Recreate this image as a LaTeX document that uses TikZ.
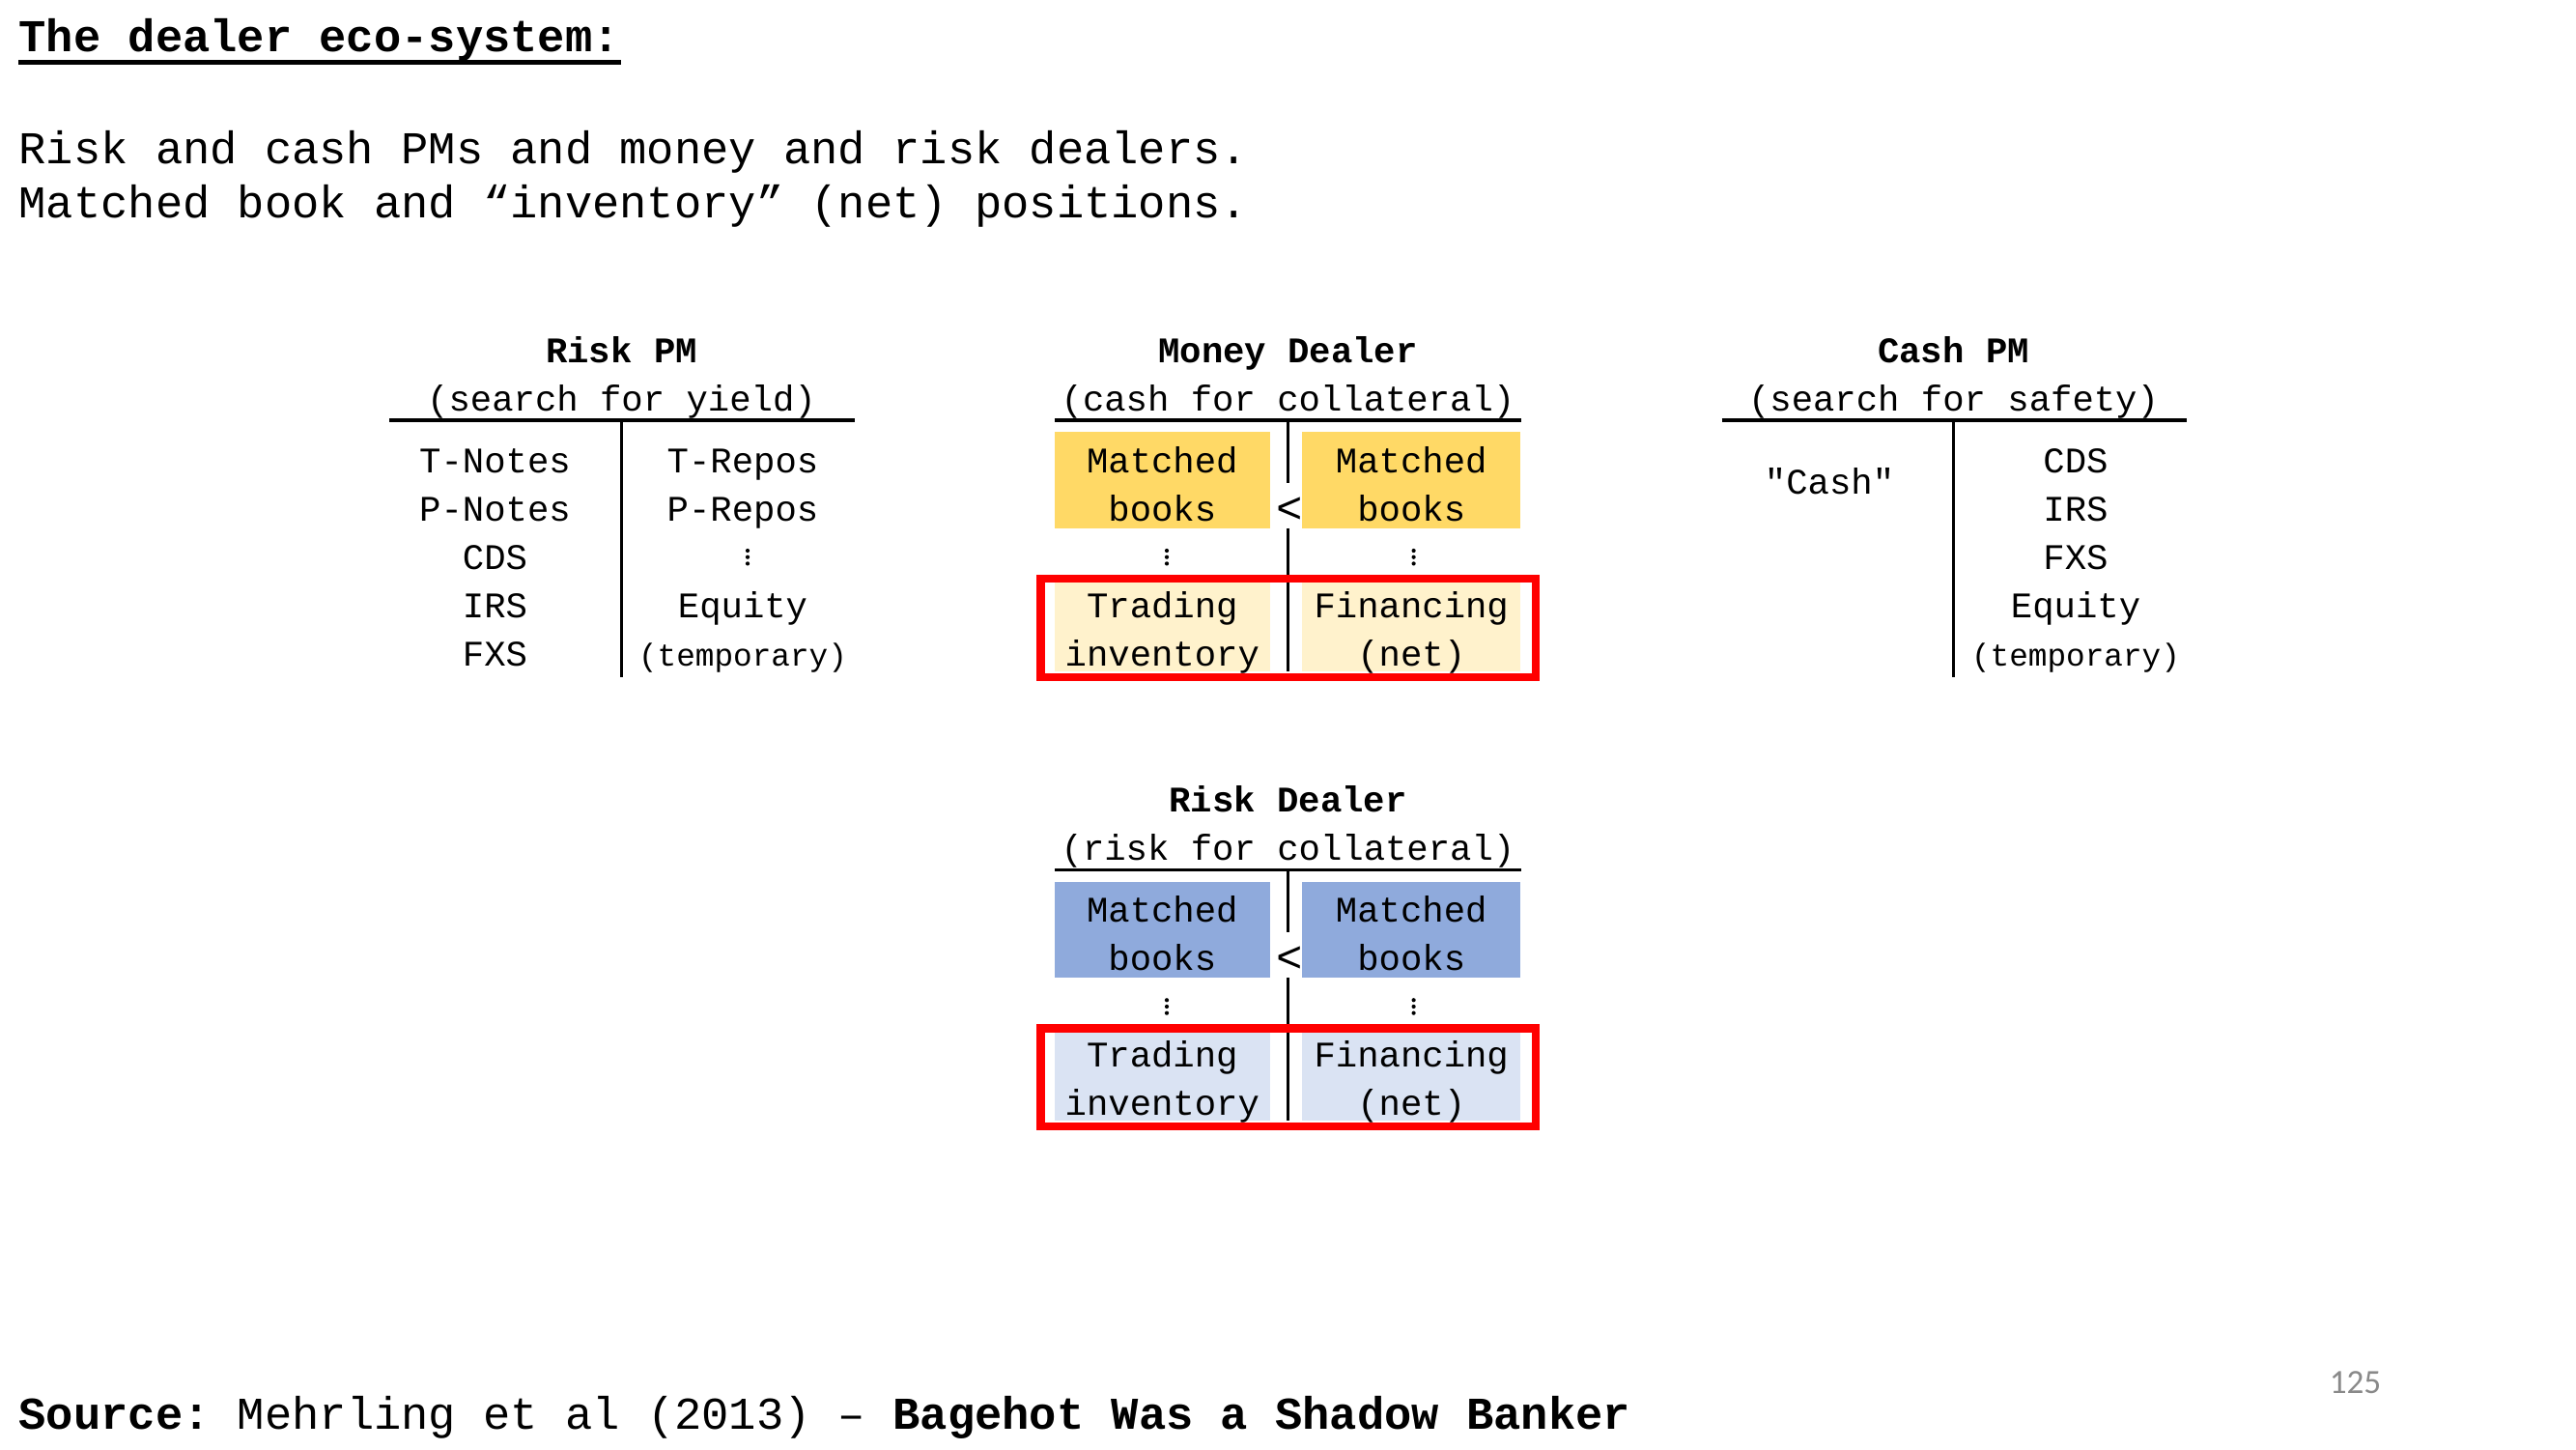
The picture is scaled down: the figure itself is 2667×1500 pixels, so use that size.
\documentclass[tikz,border=0pt]{standalone}
\usepackage{fontspec}
\setmonofont{Liberation Mono}
\setsansfont{Carlito}
\usepackage{xcolor}
\usetikzlibrary{positioning, calc}
\definecolor{mbyellow}{HTML}{FFD966}
\definecolor{invyellow}{HTML}{FFF2CC}
\definecolor{mbblue}{HTML}{8FAADC}
\definecolor{invblue}{HTML}{DAE3F3}
\definecolor{pagegray}{HTML}{898989}
\tikzset{
  bigtext/.style={font=\ttfamily\fontsize{13.4}{16}\selectfont, inner sep=0pt, anchor=base west},
  cell/.style={font=\ttfamily\fontsize{10.6}{12}\selectfont, inner sep=0pt, anchor=base},
  tempcell/.style={cell, font=\ttfamily\fontsize{9.3}{11}\selectfont},
  lesscell/.style={cell, font=\ttfamily\fontsize{13}{15}\selectfont},
  head/.style={cell, font=\ttfamily\bfseries\fontsize{10.6}{12}\selectfont},
  tline/.style={line width=1pt},
  mbbox/.style={inner sep=0pt, minimum height=0.994cm},
  invbox/.style={inner sep=0pt, minimum height=0.917cm},
  redframe/.style={draw=red, line width=2.4pt},
}

\begin{document}
\begin{tikzpicture}[x=0.01cm, y=-0.01cm]

    \fill[white] (0,0) rectangle (2667,1500);
    \useasboundingbox (0,0) rectangle (2667,1500);

    % ---------------------------------------------------
    % Heading
    % ---------------------------------------------------
    \node[bigtext, font=\ttfamily\bfseries\fontsize{13.4}{16}\selectfont] (title) at (19,54) {The dealer eco-system:};
    \draw[line width=1.4pt] ($(title.base west)+(0,10.6)$) -- ($(title.base east)+(0,10.6)$);
    \node[bigtext] (intro1) at (19,169.5) {Risk and cash PMs and money and risk dealers.};
    \node[bigtext] (intro2) at (19,225.5) {Matched book and “inventory” (net) positions.};

    % ---------------------------------------------------
    % Risk PM
    % ---------------------------------------------------
    \node[head] (rpm-title) at (643.5,375) {Risk PM};
    \node[cell] (rpm-sub) at (643.5,425) {(search for yield)};
    \draw[tline] (403,435) -- (884.5,435);
    \draw[tline] (643.5,435) -- (643.5,701);
    \foreach \t [count=\i] in {T-Notes,P-Notes,CDS,IRS,FXS}
        \node[cell] (rpm-l\i) at (512.5,439.7+50*\i) {\t};
    \node[cell] (rpm-r1) at (769,489.7) {T-Repos};
    \node[cell] (rpm-r2) at (769,539.7) {P-Repos};
    \foreach \d in {-6.7,0,6.7}
        \fill (774,576.7+\d) circle (0.6pt);
    \node[cell] (rpm-r4) at (769,639.7) {Equity};
    \node[tempcell] (rpm-r5) at (769,689.7) {(temporary)};

    % ---------------------------------------------------
    % Money Dealer
    % ---------------------------------------------------
    \node[head] (md-title) at (1333.5,375) {Money Dealer};
    \node[cell] (md-sub) at (1333.5,425) {(cash for collateral)};
    \draw[tline] (1092,435) -- (1575,435);
    \node[mbbox, fill=mbyellow, minimum width=2.226cm] (md-mbl) at (1203.3,497) {};
    \node[mbbox, fill=mbyellow, minimum width=2.263cm] (md-mbr) at (1461.2,497) {};
    \node[invbox, fill=invyellow, minimum width=2.226cm] (md-invl) at (1203.3,649.2) {};
    \node[invbox, fill=invyellow, minimum width=2.263cm] (md-invr) at (1461.2,649.2) {};
    \node[lesscell] (md-lt) at (1335,541) {<};
    \draw[tline] (1333.6,435) -- (1333.6,500);
    \draw[tline] (1333.6,546.7) -- (1333.6,695);
    \node[cell] at (1203.3,489.7) {Matched};
    \node[cell] at (1203.3,539.7) {books};
    \node[cell] at (1461.2,489.7) {Matched};
    \node[cell] at (1461.2,539.7) {books};
    \foreach \d in {-6.7,0,6.7} {
        \fill (1208,576.7+\d) circle (0.6pt);
        \fill (1463.6,576.7+\d) circle (0.6pt);
    }
    \node[cell] at (1203.3,639.7) {Trading};
    \node[cell] at (1203.3,689.7) {inventory};
    \node[cell] at (1461.2,639.7) {Financing};
    \node[cell] at (1461.2,689.7) {(net)};
    \draw[redframe] (1077.5,599.2) rectangle (1589.7,700.8);

    % ---------------------------------------------------
    % Cash PM
    % ---------------------------------------------------
    \node[head] (cpm-title) at (2022.5,375) {Cash PM};
    \node[cell] (cpm-sub) at (2022.5,425) {(search for safety)};
    \draw[tline] (1782.6,435) -- (2264,435);
    \draw[tline] (2022.5,435) -- (2022.5,701);
    \node[cell] (cpm-l1) at (1894,511.5) {"Cash"};
    \foreach \t [count=\i] in {CDS,IRS,FXS,Equity}
        \node[cell] (cpm-r\i) at (2149,439.7+50*\i) {\t};
    \node[tempcell] (cpm-r5) at (2149,689.7) {(temporary)};

    % ---------------------------------------------------
    % Risk Dealer
    % ---------------------------------------------------
    \begin{scope}[yshift=-4.65cm]
        \node[head] (rd-title) at (1333.5,375) {Risk Dealer};
        \node[cell] (rd-sub) at (1333.5,425) {(risk for collateral)};
        \draw[tline] (1092,435) -- (1575,435);
        \node[mbbox, fill=mbblue, minimum width=2.226cm] (rd-mbl) at (1203.3,497) {};
        \node[mbbox, fill=mbblue, minimum width=2.263cm] (rd-mbr) at (1461.2,497) {};
        \node[invbox, fill=invblue, minimum width=2.226cm] (rd-invl) at (1203.3,649.2) {};
        \node[invbox, fill=invblue, minimum width=2.263cm] (rd-invr) at (1461.2,649.2) {};
        \node[lesscell] (rd-lt) at (1335,541) {<};
        \draw[tline] (1333.6,435) -- (1333.6,500);
        \draw[tline] (1333.6,546.7) -- (1333.6,695);
        \node[cell] at (1203.3,489.7) {Matched};
        \node[cell] at (1203.3,539.7) {books};
        \node[cell] at (1461.2,489.7) {Matched};
        \node[cell] at (1461.2,539.7) {books};
        \foreach \d in {-6.7,0,6.7} {
            \fill (1208,576.7+\d) circle (0.6pt);
            \fill (1463.6,576.7+\d) circle (0.6pt);
        }
        \node[cell] at (1203.3,639.7) {Trading};
        \node[cell] at (1203.3,689.7) {inventory};
        \node[cell] at (1461.2,639.7) {Financing};
        \node[cell] at (1461.2,689.7) {(net)};
        \draw[redframe] (1077.5,599.2) rectangle (1589.7,700.8);
    \end{scope}

    % ---------------------------------------------------
    % Source and page number
    % ---------------------------------------------------
    \node[bigtext] (src) at (19,1479) {\textbf{Source:} Mehrling et al (2013) – \textbf{Bagehot Was a Shadow Banker}};
    \node[font=\sffamily\fontsize{10}{12}\selectfont, text=pagegray, inner sep=0pt, anchor=base] (pgno) at (2438.5,1442.5) {125};

\end{tikzpicture}
\end{document}
